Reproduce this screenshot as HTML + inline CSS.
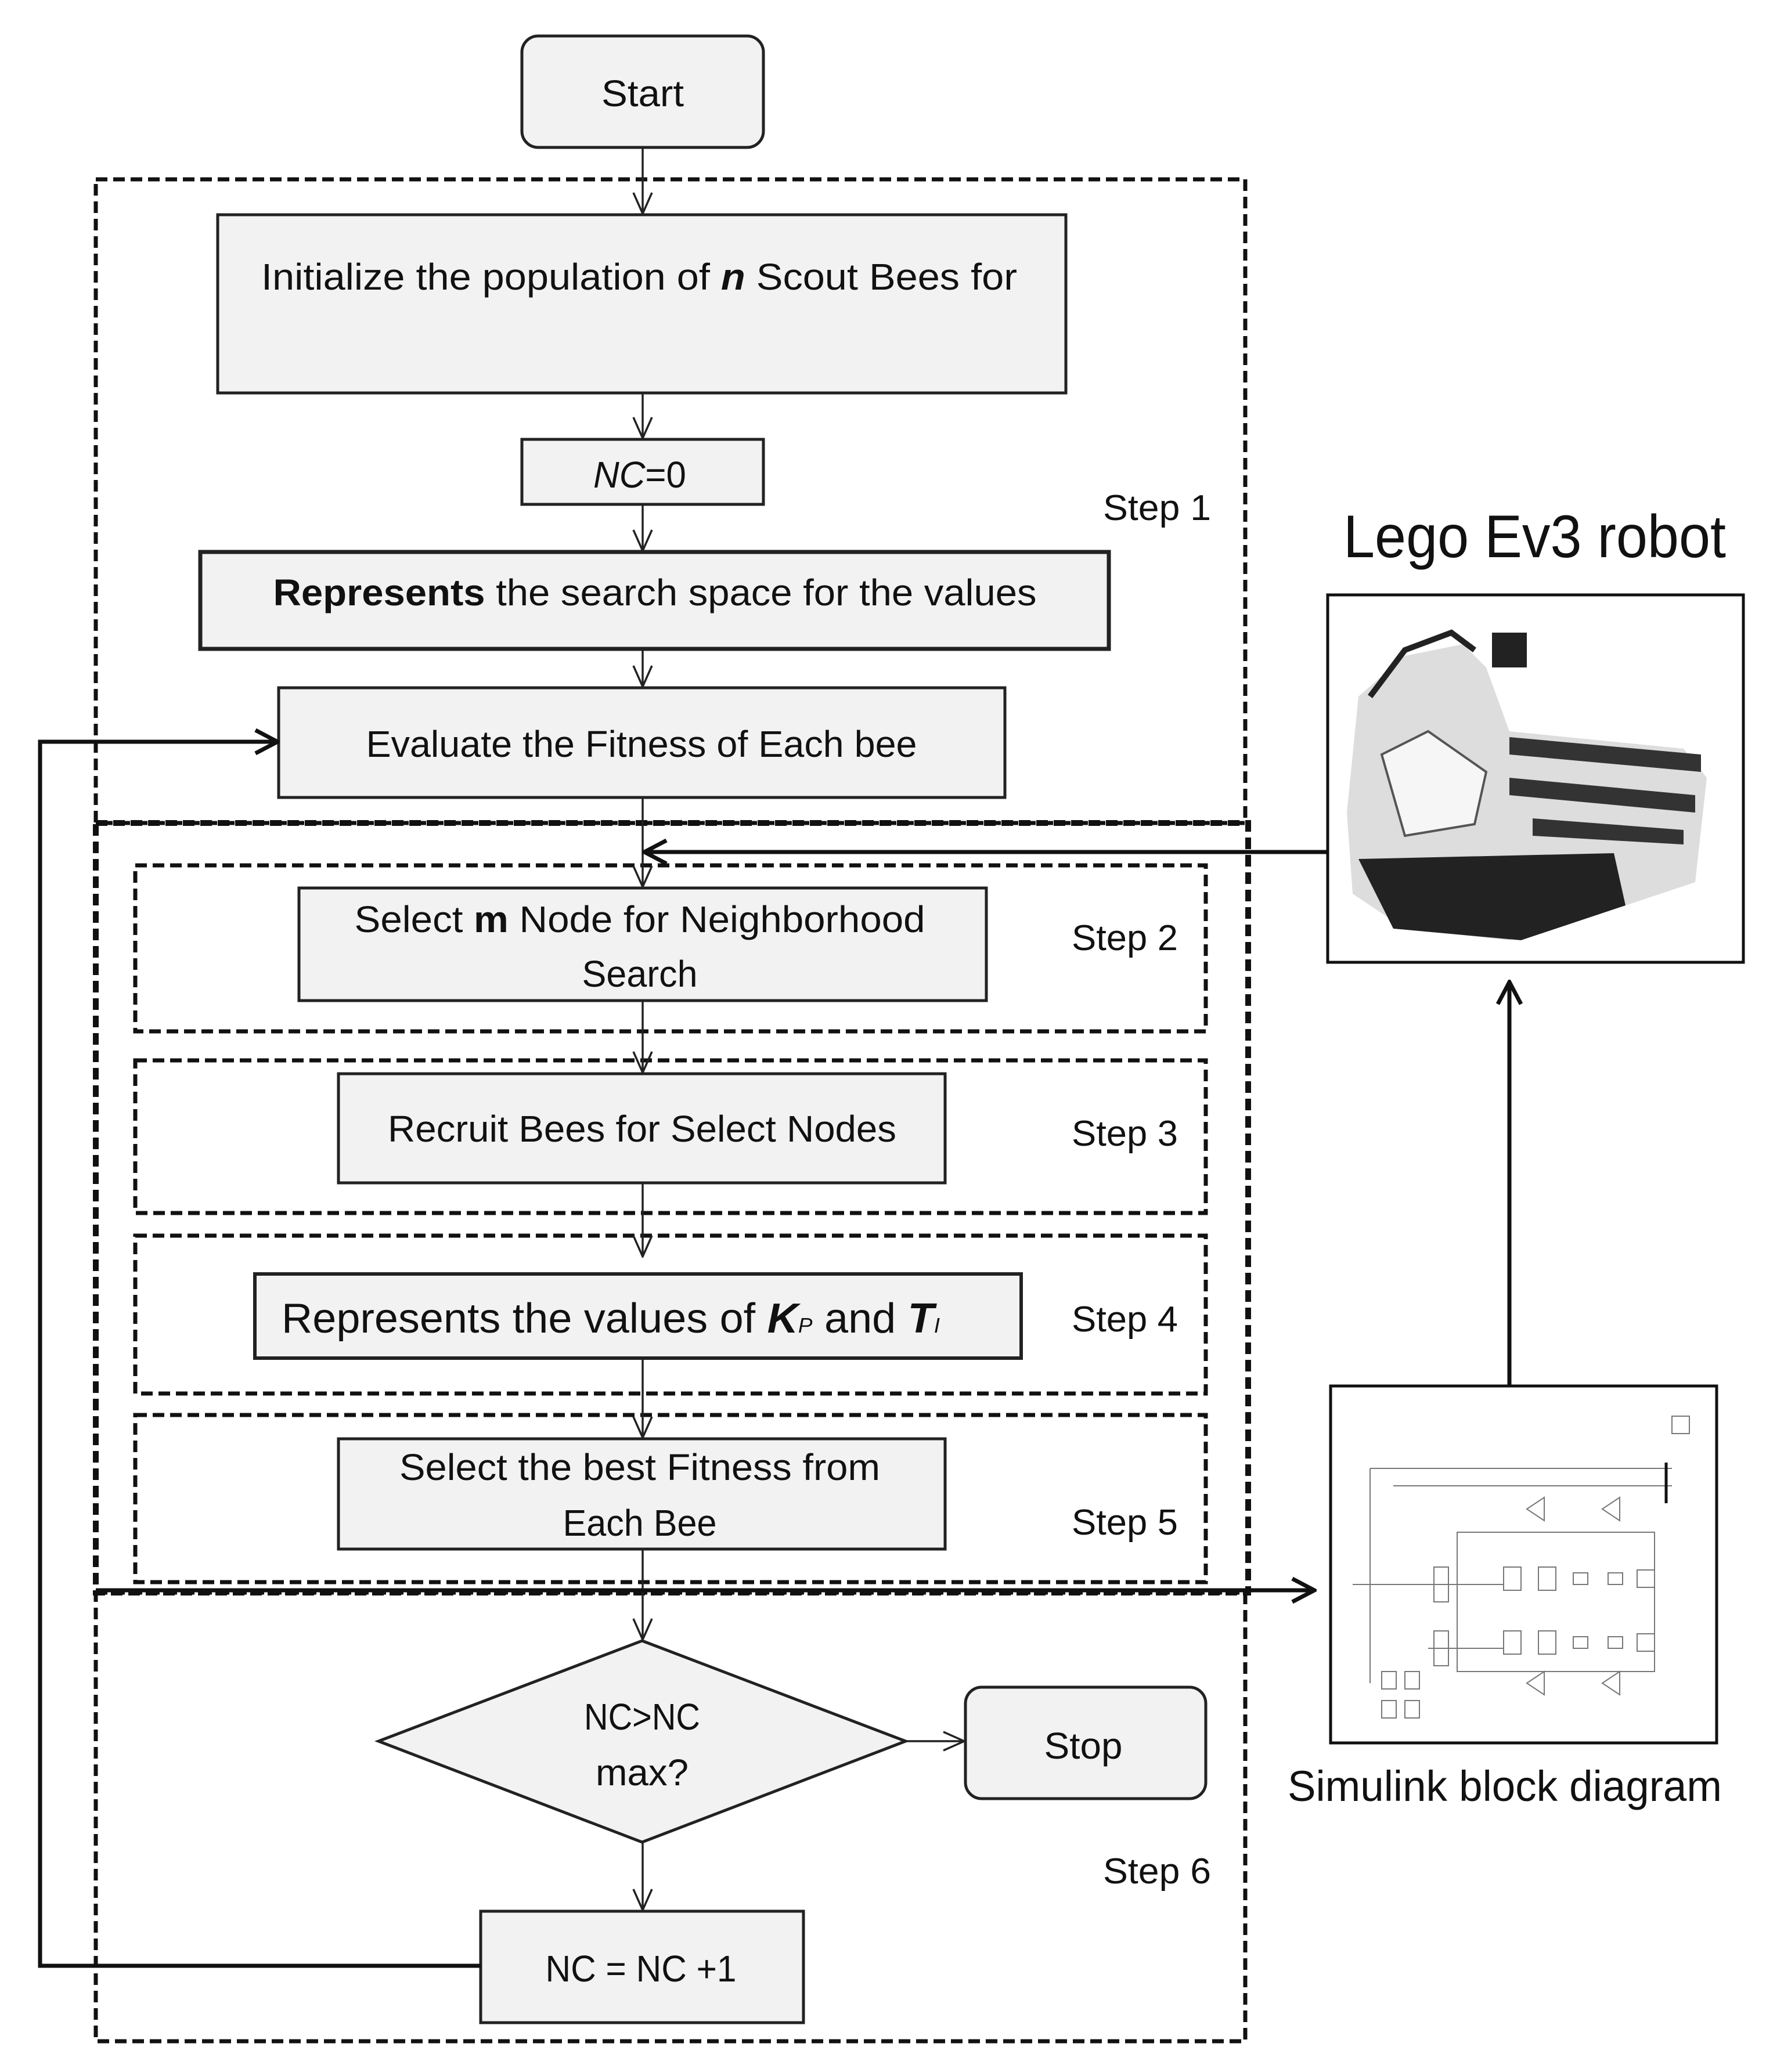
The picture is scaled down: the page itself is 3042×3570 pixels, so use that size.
<!DOCTYPE html>
<html><head><meta charset="utf-8"><style>html,body{margin:0;padding:0;background:#fff}svg{display:block}</style></head>
<body>
<svg width="3042" height="3570" viewBox="0 0 3042 3570" xmlns="http://www.w3.org/2000/svg" font-family="'Liberation Sans', sans-serif">
<defs>
<marker id="v" markerWidth="40" markerHeight="40" refX="38" refY="20" orient="auto" markerUnits="userSpaceOnUse" viewBox="0 0 40 40"><path d="M2 4 L38 20 L2 36" fill="none" stroke="#222" stroke-width="3.5"/></marker>
<marker id="vb" markerWidth="50" markerHeight="50" refX="46" refY="25" orient="auto" markerUnits="userSpaceOnUse" viewBox="0 0 50 50"><path d="M8 5 L46 25 L8 45" fill="none" stroke="#111" stroke-width="7"/></marker>
</defs>
<g fill="#f2f2f2" stroke="#222" stroke-width="5">
<rect x="899" y="62" width="416" height="192" rx="28"/>
<rect x="375" y="370" width="1461" height="307"/>
<rect x="899" y="757" width="416" height="112"/>
<rect x="345" y="951" width="1565" height="167" stroke-width="7"/>
<rect x="480" y="1185" width="1251" height="189"/>
<rect x="515" y="1530" width="1184" height="194"/>
<rect x="583" y="1850" width="1045" height="188"/>
<rect x="439" y="2195" width="1320" height="145" stroke-width="6"/>
<rect x="583" y="2479" width="1045" height="190"/>
<polygon points="1106,2827 1560,3000 1106,3174 652,3000"/>
<rect x="1663" y="2907" width="414" height="192" rx="28"/>
<rect x="828" y="3293" width="556" height="192"/>
</g>
<g fill="none" stroke="#111" stroke-width="7" stroke-dasharray="20 10">
<rect x="165" y="309" width="1980" height="1109"/>
<rect x="165" y="1418" width="1985" height="1326" stroke-width="10"/>
<rect x="233" y="1491" width="1844" height="286"/>
<rect x="233" y="1827" width="1844" height="263"/>
<rect x="233" y="2129" width="1844" height="272"/>
<rect x="233" y="2438" width="1844" height="288"/>
<rect x="165" y="2744" width="1980" height="773"/>
</g>
<g stroke="#222" stroke-width="3.5" fill="none">
<line x1="1107" y1="254" x2="1107" y2="368" marker-end="url(#v)"/>
<line x1="1107" y1="677" x2="1107" y2="755" marker-end="url(#v)"/>
<line x1="1107" y1="869" x2="1107" y2="949" marker-end="url(#v)"/>
<line x1="1107" y1="1118" x2="1107" y2="1183" marker-end="url(#v)"/>
<line x1="1107" y1="1374" x2="1107" y2="1528" marker-end="url(#v)"/>
<line x1="1107" y1="1724" x2="1107" y2="1848" marker-end="url(#v)"/>
<line x1="1107" y1="2038" x2="1107" y2="2165" marker-end="url(#v)"/>
<line x1="1107" y1="2340" x2="1107" y2="2477" marker-end="url(#v)"/>
<line x1="1107" y1="2669" x2="1107" y2="2825" marker-end="url(#v)"/>
<line x1="1107" y1="3174" x2="1107" y2="3291" marker-end="url(#v)"/>
<line x1="1560" y1="3000" x2="1661" y2="3000" marker-end="url(#v)"/>
</g>
<g stroke="#111" stroke-width="7" fill="none">
<polyline points="828,3387 69,3387 69,1278 478,1278" marker-end="url(#vb)"/>
<polyline points="2287,1468 1110,1468" marker-end="url(#vb)"/>
<polyline points="165,2740 2264,2740" marker-end="url(#vb)"/>
<polyline points="2600,2388 2600,1692" marker-end="url(#vb)"/>
</g>
<g font-size="64" fill="#111" text-anchor="middle">
<text x="1107" y="183" textLength="142" lengthAdjust="spacingAndGlyphs">Start</text>
<text x="1101" y="499" textLength="1302" lengthAdjust="spacingAndGlyphs">Initialize the population of <tspan font-weight="bold" font-style="italic">n</tspan>  Scout Bees for</text>
<text x="1102" y="840" textLength="160" lengthAdjust="spacingAndGlyphs" font-style="italic">NC<tspan font-style="normal">=0</tspan></text>
<text x="1128" y="1043" textLength="1315" lengthAdjust="spacingAndGlyphs"><tspan font-weight="bold">Represents</tspan> the search space for the values</text>
<text x="1105" y="1304" textLength="949" lengthAdjust="spacingAndGlyphs">Evaluate the Fitness of Each bee</text>
<text x="1102" y="1606" textLength="983" lengthAdjust="spacingAndGlyphs">Select <tspan font-weight="bold">m</tspan> Node for Neighborhood</text>
<text x="1102" y="1700" textLength="199" lengthAdjust="spacingAndGlyphs">Search</text>
<text x="1106" y="1967" textLength="876" lengthAdjust="spacingAndGlyphs">Recruit Bees for Select Nodes</text>
<text x="1052" y="2296" textLength="1134" lengthAdjust="spacingAndGlyphs" font-size="72">Represents the values of <tspan font-weight="bold" font-style="italic">K</tspan><tspan font-size="36" font-style="italic">P</tspan> and <tspan font-weight="bold" font-style="italic">T</tspan><tspan font-size="36" font-style="italic">I</tspan></text>
<text x="1102" y="2550" textLength="828" lengthAdjust="spacingAndGlyphs">Select the best Fitness from</text>
<text x="1102" y="2646" textLength="265" lengthAdjust="spacingAndGlyphs">Each Bee</text>
<text x="1106" y="2980" textLength="200" lengthAdjust="spacingAndGlyphs">NC&gt;NC</text>
<text x="1106" y="3076" textLength="160" lengthAdjust="spacingAndGlyphs">max?</text>
<text x="1866" y="3030" textLength="135" lengthAdjust="spacingAndGlyphs">Stop</text>
<text x="1104" y="3414" textLength="329" lengthAdjust="spacingAndGlyphs">NC = NC +1</text>
</g>
<g font-size="62" fill="#111">
<text x="1900" y="896" textLength="186" lengthAdjust="spacingAndGlyphs">Step 1</text>
<text x="1846" y="1637" textLength="183" lengthAdjust="spacingAndGlyphs">Step 2</text>
<text x="1846" y="1974" textLength="183" lengthAdjust="spacingAndGlyphs">Step 3</text>
<text x="1846" y="2294" textLength="183" lengthAdjust="spacingAndGlyphs">Step 4</text>
<text x="1846" y="2644" textLength="183" lengthAdjust="spacingAndGlyphs">Step 5</text>
<text x="1900" y="3245" textLength="186" lengthAdjust="spacingAndGlyphs">Step 6</text>
<text x="2314" y="960" font-size="104" textLength="659" lengthAdjust="spacingAndGlyphs">Lego Ev3 robot</text>
<text x="2218" y="3103" font-size="74" textLength="748" lengthAdjust="spacingAndGlyphs">Simulink block diagram</text>
</g>
<!-- robot image -->
<rect x="2287" y="1025" width="716" height="633" fill="#fff" stroke="#111" stroke-width="5"/>
<g>
<path d="M2340 1200 L2420 1130 L2520 1110 L2560 1150 L2600 1260 L2900 1290 L2940 1340 L2920 1520 L2800 1560 L2600 1620 L2420 1600 L2330 1540 L2320 1400 Z" fill="#ddd"/>
<path d="M2340 1480 L2780 1470 L2800 1560 L2620 1620 L2400 1600 Z" fill="#222"/>
<path d="M2600 1270 L2930 1300 L2930 1330 L2600 1300 Z M2600 1340 L2920 1370 L2920 1400 L2600 1370 Z M2640 1410 L2900 1430 L2900 1455 L2640 1440 Z" fill="#333"/>
<path d="M2360 1200 L2420 1120 L2500 1090 L2540 1120" fill="none" stroke="#222" stroke-width="10"/>
<rect x="2570" y="1090" width="60" height="60" fill="#222"/>
<path d="M2380 1300 L2460 1260 L2560 1330 L2540 1420 L2420 1440 Z" fill="#f6f6f6" stroke="#555" stroke-width="4"/>
</g>
<!-- simulink -->
<rect x="2292" y="2388" width="665" height="615" fill="#fff" stroke="#111" stroke-width="5"/>
<g stroke="#777" stroke-width="2" fill="none">
<line x1="2360" y1="2530" x2="2880" y2="2530"/><line x1="2400" y1="2560" x2="2880" y2="2560"/>
<line x1="2870" y1="2520" x2="2870" y2="2590" stroke="#111" stroke-width="5"/>
<rect x="2880" y="2440" width="30" height="30"/>
<rect x="2510" y="2640" width="340" height="240"/>
<line x1="2360" y1="2530" x2="2360" y2="2900"/>
<polygon points="2630,2600 2660,2580 2660,2620"/><polygon points="2760,2600 2790,2580 2790,2620"/>
<polygon points="2630,2900 2660,2880 2660,2920"/><polygon points="2760,2900 2790,2880 2790,2920"/>
<rect x="2590" y="2700" width="30" height="40"/><rect x="2650" y="2700" width="30" height="40"/>
<rect x="2590" y="2810" width="30" height="40"/><rect x="2650" y="2810" width="30" height="40"/>
<rect x="2710" y="2710" width="25" height="20"/><rect x="2770" y="2710" width="25" height="20"/><rect x="2820" y="2705" width="30" height="30"/>
<rect x="2710" y="2820" width="25" height="20"/><rect x="2770" y="2820" width="25" height="20"/><rect x="2820" y="2815" width="30" height="30"/>
<line x1="2330" y1="2730" x2="2590" y2="2730"/><line x1="2460" y1="2840" x2="2590" y2="2840"/>
<rect x="2470" y="2700" width="25" height="60"/><rect x="2470" y="2810" width="25" height="60"/>
<rect x="2380" y="2880" width="25" height="30"/><rect x="2420" y="2880" width="25" height="30"/>
<rect x="2380" y="2930" width="25" height="30"/><rect x="2420" y="2930" width="25" height="30"/>
</g>
</svg>
</body></html>
